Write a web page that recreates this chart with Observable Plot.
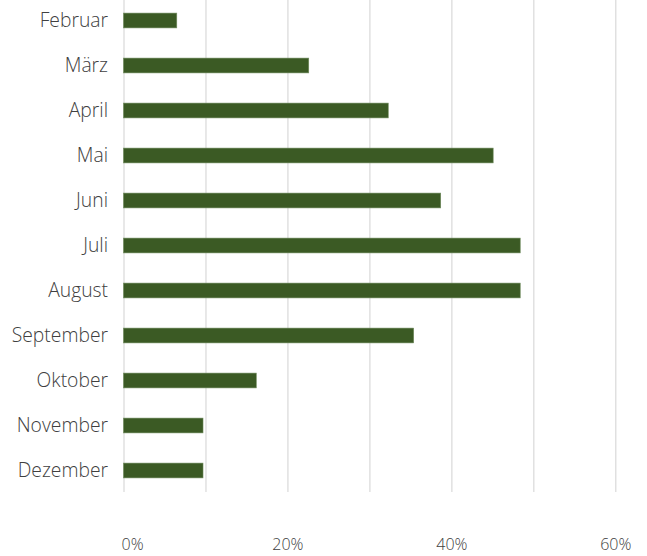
<!DOCTYPE html>
<html>
<head>
<meta charset="utf-8">
<script src="https://cdn.jsdelivr.net/npm/d3@7"></script>
<script src="https://cdn.jsdelivr.net/npm/@observablehq/plot@0.6"></script>
<style>
  html, body { margin: 0; padding: 0; background: #fff; }
  #chart svg { display: block; }
</style>
</head>
<body>
<div id="chart"></div>
<script>
const months = ["Februar", "März", "April", "Mai", "Juni", "Juli", "August", "September", "Oktober", "November", "Dezember"];
const values = [6.5, 22.6, 32.3, 45.1, 38.7, 48.4, 48.4, 35.4, 16.2, 9.7, 9.7];
const gridTicks = [0, 10, 20, 30, 40, 50, 60];
const labelTicks = [20, 40, 60];
const firstTick = [0];

const data = months.map((m, i) => ({month: m, value: values[i]}));
const fmt = d => d + "%";

const chart = Plot.plot({
  width: 647,
  height: 556,
  marginLeft: 123.5,
  marginRight: 31.7,
  marginTop: 0,
  marginBottom: 64,
  style: {fontFamily: "'Open Sans', sans-serif", fontWeight: 300, color: "#404040", background: "#fff"},
  x: {domain: [0, 60]},
  y: {domain: months, range: [-5.6, 497], padding: 0},
  marks: [
    Plot.ruleX(gridTicks, {stroke: "#d9d9d9", strokeWidth: 1.2}),
    Plot.barX(data, {x: "value", y: "month", fill: "#3b5a24", stroke: "#6f8a5c", strokeWidth: 0.6, insetTop: 15.1, insetBottom: 15.1}),
    Plot.axisY({tickSize: 0, tickPadding: 16, fontSize: 19.3, label: null, fill: "#404040", dy: -0.5}),
    Plot.axisX(labelTicks, {tickSize: 0, tickPadding: 46, fontSize: 16, label: null, tickFormat: fmt, fill: "#404040"}),
    Plot.text(firstTick, {x: d => d, text: fmt, frameAnchor: "bottom", textAnchor: "start", lineAnchor: "top", dx: -2.5, dy: 46, fontSize: 16, fill: "#404040"})
  ]
});
document.getElementById("chart").appendChild(chart);
</script>
</body>
</html>
